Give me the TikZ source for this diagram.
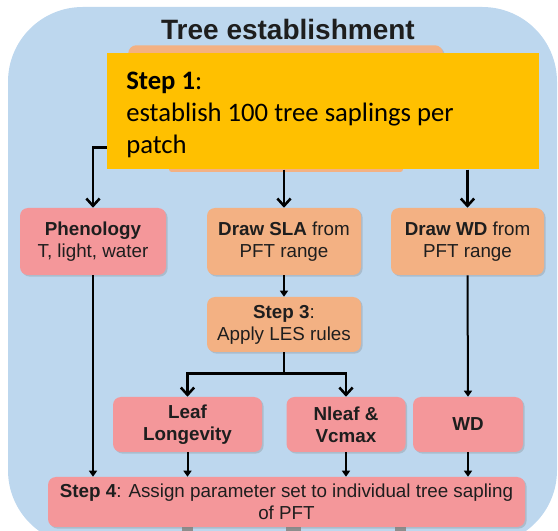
\documentclass[tikz,border=0pt]{standalone}
\usepackage{fontspec}
\setmainfont{Liberation Sans}
\newfontfamily\calibrifont{Carlito}
\usetikzlibrary{arrows.meta,shadows,calc}
\definecolor{bgblue}{HTML}{BDD7EE}
\definecolor{boxpink}{HTML}{F4979A}
\definecolor{boxpeach}{HTML}{F3B183}
\definecolor{gold}{HTML}{FFC000}
\definecolor{stubgray}{HTML}{8E8E8E}
\definecolor{txt}{HTML}{1E1E1E}
\begin{document}
\begin{tikzpicture}[x=0.75pt,y=-0.75pt,
  box/.style={rounded corners=6pt, draw=none, align=center, text=txt,
    font=\fontsize{14.1}{16.4}\selectfont, inner sep=0pt,
    drop shadow={shadow xshift=1.2pt, shadow yshift=-1.2pt, opacity=0.3}},
  pinkbox/.style={box, fill=boxpink},
  peachbox/.style={box, fill=boxpeach},
  bigarrow/.style={line width=1.9pt, line join=miter, -{Straight Barb[length=5.5pt,width=10pt,line width=1.9pt]}},
  smallarrow/.style={line width=1.5pt, -{Triangle[length=4.5pt,width=6pt]}},
]
\useasboundingbox (0,0) rectangle (558,531);
% background panel
\fill[bgblue, rounded corners=56pt] (8,7) rectangle (557,545);
% title
\node[font=\bfseries\fontsize{21}{25}\selectfont, text=txt, anchor=base] (title) at (288,40) {Tree establishment};
% orange box hidden behind the Step 1 note
\node[peachbox, minimum width=236pt, minimum height=90pt, anchor=north west] (s1bg) at (128,45) {};
\fill[boxpeach, rounded corners=2pt] (169,160) rectangle (403,172);
% Step 1 note
\node[fill=gold, anchor=north west, minimum width=324pt, minimum height=87pt, inner sep=0pt] (yel) at (107,53) {};
\node[anchor=north west, inner sep=0pt, align=left, text=black,
  font=\calibrifont\fontsize{20}{24}\selectfont] (yeltext) at (126,71.5)
  {\textbf{Step 1}:\\establish 100 tree saplings per\\patch};
% row 2
\node[pinkbox, minimum width=109.5pt, minimum height=50.25pt] (phen) at (93,241.5) {\textbf{Phenology}\\T, light, water};
\node[peachbox, minimum width=115.5pt, minimum height=50.25pt] (sla) at (284,241.5) {\textbf{Draw SLA} from\\PFT range};
\node[peachbox, minimum width=114.75pt, minimum height=50.25pt] (wdd) at (467.5,241.5) {\textbf{Draw WD} from\\PFT range};
% step 3
\node[peachbox, minimum width=115.5pt, minimum height=41.25pt] (s3) at (284,324.5) {\textbf{Step 3}:\\Apply LES rules};
% row 3
\node[pinkbox, minimum width=111.75pt, minimum height=41.25pt] (leaf) at (187.5,424.5) {\textbf{Leaf}\\\textbf{Longevity}};
\node[pinkbox, minimum width=89.25pt, minimum height=41.25pt] (nleaf) at (346,424.5) {\textbf{Nleaf \&}\\\textbf{Vcmax}};
\node[pinkbox, minimum width=82.5pt, minimum height=41.25pt] (wd) at (468,424.5) {\textbf{WD}};
% stubs below step 4
\fill[stubgray] (182,520) rectangle (193,532);
\fill[stubgray] (286,520) rectangle (301,532);
\fill[stubgray] (395,520) rectangle (406,532);
% step 4
\node[pinkbox, minimum width=357.75pt, minimum height=37.5pt] (s4) at (286.5,502) {\textbf{Step 4}: Assign parameter set to individual tree sapling\\of PFT};
% connectors
\draw[bigarrow] ([yshift=-27pt]yel.west) -| (phen.north);
\draw[bigarrow] (yel.south -| sla.north) -- (sla.north);
\draw[bigarrow] (yel.south -| wdd.north) -- (wdd.north);
\draw[smallarrow] (sla.south) -- (s3.north);
\coordinate (br) at ($(s3.south)+(0,21)$);
\draw[line width=1.9pt] (s3.south) -- (br);
\draw[bigarrow] (br) -| (leaf.north);
\draw[bigarrow] (br) -| (nleaf.north);
\draw[smallarrow] (phen.south) -- (phen.south |- s4.north);
\draw[smallarrow] (leaf.south) -- (leaf.south |- s4.north);
\draw[smallarrow] (nleaf.south) -- (nleaf.south |- s4.north);
\draw[smallarrow] (wdd.south) -- (wd.north);
\draw[smallarrow] (wd.south) -- (wd.south |- s4.north);
\end{tikzpicture}
\end{document}
